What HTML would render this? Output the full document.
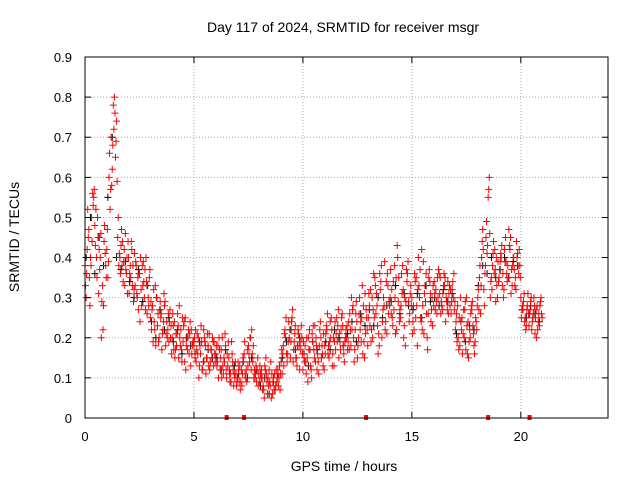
<!DOCTYPE html>
<html><head><meta charset="utf-8"><style>
html,body{margin:0;padding:0;background:#fff;}
svg{display:block;font-family:"Liberation Sans",sans-serif;}
</style></head><body>
<svg id="chart" width="640" height="480" viewBox="0 0 640 480">
<rect width="640" height="480" fill="#fff"/>
<g id="grid"></g>
<g id="marks"></g>
<rect x="85" y="57" width="523" height="361" fill="none" stroke="#000" stroke-width="1"/>
<g id="axes"></g>
<text x="343" y="32" text-anchor="middle" font-size="14">Day 117 of 2024, SRMTID for receiver msgr</text>
<text x="344" y="471" text-anchor="middle" font-size="14">GPS time / hours</text>
<text transform="translate(19,237) rotate(-90)" text-anchor="middle" font-size="14">SRMTID / TECUs</text>
</svg>
<script>
const xTicks=[0,5,10,15,20];
const yTicks=[0,0.1,0.2,0.3,0.4,0.5,0.6,0.7,0.8,0.9];
const yTickLabels=["0","0.1","0.2","0.3","0.4","0.5","0.6","0.7","0.8","0.9"];
const startHour=0, redStep=0.1, blackStep=0.2;
const redA=[.38,.42,.35,.50,.55,.52,.45,.40,.33,.48,
.42,.60,.70,.78,.65,.45,.40,.38,.42,.36,
.40,.35,.38,.33,.30,.36,.28,.34,.40,.30,
.25,.28,.22,.30,.20,.26,.24,.18,.22,.27,
.20,.24,.18,.15,.22,.19,.25,.17,.21,.16,
.18,.14,.20,.16,.12,.19,.15,.21,.17,.13,
.16,.18,.12,.20,.14,.10,.15,.09,.12,.14,
.10,.13,.08,.16,.12,.18,.20,.14,.10,.12,
.09,.12,.07,.15,.10,.08,.06,.11,.09,.10,
.14,.18,.20,.16,.22,.25,.19,.15,.21,.17,
.12,.18,.15,.22,.10,.17,.20,.14,.24,.16,
.18,.22,.15,.25,.20,.17,.23,.19,.26,.14,
.20,.24,.18,.28,.22,.15,.30,.25,.19,.27,
.25,.32,.20,.35,.28,.18,.38,.30,.24,.33,
.30,.25,.38,.22,.35,.28,.32,.18,.36,.26,
.30,.22,.35,.40,.25,.28,.33,.20,.37,.27,
.28,.32,.30,.35,.27,.33,.29,.31,.26,.30,
.22,.28,.18,.25,.20,.30,.15,.26,.23,.19,
.28,.35,.40,.32,.45,.55,.30,.38,.42,.33,
.35,.40,.30,.45,.38,.42,.33,.37,.44,.36,
.30,.27,.25,.28,.26,.22,.30,.27,.24,.29];
const redB=[.30,.45,.40,.56,.48,.35,.42,.20,.28,.38,
.35,.52,.62,.80,.74,.38,.43,.34,.46,.31,
.36,.42,.32,.38,.27,.40,.33,.37,.26,.35,
.22,.32,.18,.26,.29,.21,.28,.24,.19,.23,
.23,.17,.26,.20,.14,.24,.18,.22,.13,.19,
.15,.21,.13,.19,.22,.11,.18,.14,.20,.16,
.13,.20,.17,.11,.18,.13,.09,.16,.11,.08,
.12,.09,.15,.11,.17,.14,.22,.10,.13,.08,
.11,.07,.13,.09,.12,.05,.10,.08,.12,.07,
.11,.21,.16,.24,.19,.14,.23,.18,.12,.20,
.15,.11,.20,.13,.19,.23,.12,.18,.15,.21,
.21,.16,.24,.13,.19,.25,.15,.22,.18,.20,
.17,.26,.22,.14,.29,.20,.24,.16,.31,.22,
.28,.22,.36,.26,.16,.32,.24,.39,.21,.29,
.26,.34,.21,.40,.27,.31,.23,.37,.29,.33,
.24,.34,.18,.30,.42,.21,.36,.26,.31,.23,
.31,.26,.36,.29,.33,.24,.34,.28,.32,.27,
.26,.17,.24,.21,.29,.16,.22,.27,.18,.24,
.32,.26,.47,.36,.41,.60,.35,.44,.29,.39,
.39,.33,.42,.36,.47,.31,.40,.35,.41,.38,
.27,.31,.23,.26,.29,.25,.21,.28,.23,.26];
const redC=[.33,.52,.28,.44,.57,.40,.31,.46,.22,.41,
.47,.66,.58,.72,.69,.50,.36,.44,.33,.40,
.31,.44,.29,.39,.35,.24,.38,.30,.34,.28,
.29,.19,.33,.23,.27,.17,.31,.21,.26,.20,
.26,.15,.21,.28,.17,.23,.12,.20,.24,.18,
.20,.17,.10,.23,.14,.18,.21,.12,.15,.19,
.18,.10,.15,.13,.21,.16,.12,.19,.08,.11,
.14,.07,.11,.19,.09,.16,.12,.18,.11,.15,
.13,.10,.05,.11,.08,.14,.09,.07,.10,.13,
.17,.13,.25,.19,.15,.27,.21,.13,.18,.23,
.19,.14,.09,.17,.21,.15,.18,.11,.20,.13,
.16,.26,.19,.22,.13,.21,.27,.17,.23,.19,
.23,.17,.30,.20,.26,.18,.22,.33,.15,.25,
.31,.19,.27,.33,.23,.36,.20,.28,.34,.26,
.37,.23,.30,.43,.24,.36,.20,.29,.39,.31,
.21,.36,.28,.33,.24,.39,.29,.17,.34,.30,
.34,.29,.37,.26,.31,.35,.27,.33,.29,.36,
.24,.20,.30,.16,.27,.23,.19,.28,.21,.25,
.30,.38,.44,.28,.49,.57,.34,.41,.37,.30,
.37,.43,.32,.39,.35,.45,.38,.33,.40,.42,
.25,.29,.22,.31,.27,.24,.28,.20,.26,.30];
const redD=[.36,.47,.38,.53,.43,.50,.37,.29,.44,.35,
.39,.57,.68,.76,.59,.41,.47,.39,.37,.44,
.38,.33,.41,.31,.36,.32,.39,.27,.33,.37,
.27,.24,.30,.19,.25,.22,.29,.20,.24,.16,
.17,.21,.23,.18,.25,.14,.20,.16,.22,.19,
.22,.16,.18,.12,.20,.15,.13,.17,.19,.14,
.14,.17,.10,.15,.12,.19,.11,.14,.10,.09,
.09,.12,.14,.10,.13,.20,.16,.12,.09,.11,
.10,.08,.12,.06,.09,.11,.07,.12,.08,.11,
.16,.22,.14,.20,.24,.17,.15,.22,.19,.16,
.14,.20,.17,.12,.23,.14,.16,.22,.18,.12,
.23,.18,.20,.16,.24,.19,.21,.25,.16,.22,
.19,.22,.27,.17,.24,.26,.19,.28,.21,.18,
.23,.30,.25,.31,.21,.34,.27,.22,.36,.28,
.32,.27,.35,.29,.25,.38,.30,.34,.24,.28,
.28,.25,.32,.37,.22,.31,.26,.35,.24,.33,
.27,.35,.31,.28,.36,.30,.26,.32,.34,.29,
.19,.25,.22,.27,.17,.24,.20,.29,.16,.22,
.27,.33,.42,.38,.43,.46,.32,.36,.40,.34,
.41,.36,.39,.34,.43,.37,.40,.32,.38,.35,
.28,.24,.27,.23,.30,.26,.25,.22,.28,.25];
const blackS=[.40,.50,.36,.45,.38,.55,.70,.40,.37,.39,
.34,.30,.37,.29,.33,.24,.20,.27,.22,.25,
.19,.22,.16,.20,.18,.16,.19,.14,.17,.15,
.15,.12,.17,.11,.13,.11,.14,.10,.15,.12,
.08,.10,.06,.09,.11,.15,.19,.22,.17,.20,
.16,.13,.19,.17,.15,.19,.17,.22,.20,.18,
.21,.24,.19,.26,.23,.27,.23,.30,.25,.28,
.29,.33,.26,.31,.28,.27,.31,.25,.33,.29,
.30,.28,.32,.29,.31,.21,.24,.19,.23,.22,
.33,.38,.36,.40,.35,.37,.40,.35,.39,.38,
.27,.25,.28,.26,.24];
const rugHours=[6.5,7.3,12.9,18.5,20.4];

const NS="http://www.w3.org/2000/svg";
const X0=85,X1=608,Y0=418,Y1=57,XMAX=24,YMAX=0.9;
function xs(h){return X0+h*(X1-X0)/XMAX;}
function ys(v){return Y0-v*(Y0-Y1)/YMAX;}
function mk(tag,attrs,parent){const e=document.createElementNS(NS,tag);for(const k in attrs)e.setAttribute(k,attrs[k]);parent.appendChild(e);return e;}
const grid=document.getElementById('grid'),axes=document.getElementById('axes'),marks=document.getElementById('marks');
xTicks.forEach(t=>{
  const x=xs(t);
  if(t>0){const g=mk('line',{x1:x,x2:x,y1:Y1,y2:Y0,stroke:'#aaa','stroke-dasharray':'1,2'},grid);
  
  }
  const tk=mk('path',{d:`M${x},${Y0}v-6M${x},${Y1}v6`,stroke:'#000'},axes);
  
  
  const l=mk('text',{x:x,y:Y0+23,'text-anchor':'middle','font-size':13},axes);l.textContent=t;
  
  
});
yTicks.forEach((t,i)=>{
  const y=ys(t);
  if(i>0&&i<yTicks.length-1){const g=mk('line',{x1:X0,x2:X1,y1:y,y2:y,stroke:'#aaa','stroke-dasharray':'1,2'},grid);
  
  }
  const tk=mk('path',{d:`M${X0},${y}h6M${X1},${y}h-6`,stroke:'#000'},axes);
  
  
  const l=mk('text',{x:X0-13,y:y+5,'text-anchor':'end','font-size':13},axes);l.textContent=yTickLabels[i];
  
  
});
function plus(h,v,color,name){
  const x=xs(h),y=ys(v);
  const p=mk('path',{d:`M${x-3.5},${y}h7M${x},${y-3.5}v7`,stroke:color,'stroke-width':1},marks);
  
  
}
blackS.forEach((v,i)=>plus(startHour+i*blackStep+0.05,v,'#000','black-point'));
redA.forEach((v,i)=>plus(startHour+i*redStep,v,'#f00','red-point'));
redB.forEach((v,i)=>plus(startHour+i*redStep+0.05,v,'#f00','red-point'));
redC.forEach((v,i)=>plus(startHour+i*redStep+0.025,v,'#f00','red-point'));
redD.forEach((v,i)=>plus(startHour+i*redStep+0.075,v,'#f00','red-point'));
rugHours.forEach(h=>{
  const r=mk('rect',{x:xs(h)-2,y:Y0-3,width:4,height:5,fill:'#f00'},marks);
  
  
});
</script>
</body></html>
